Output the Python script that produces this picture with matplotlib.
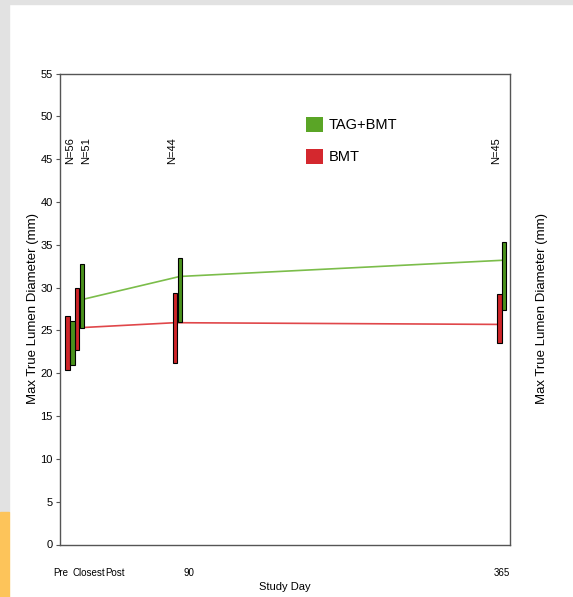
import numpy as np
import matplotlib.pyplot as plt
from matplotlib.patches import Patch, Rectangle

plt.rcParams['font.family'] = ['Liberation Sans', 'DejaVu Sans']

# data: study day of each visit and the range / mean of each group
visit_day = [-1, 7, 90, 365]
n_labels = ['N=56', 'N=51', 'N=44', 'N=45']

tag_low = [21.0, 25.3, 26.0, 27.4]
tag_high = [26.1, 32.8, 33.5, 35.3]
tag_mean = [24.1, 28.6, 31.3, 33.2]

bmt_low = [20.4, 22.7, 21.2, 23.5]
bmt_high = [26.7, 30.0, 29.4, 29.2]
bmt_mean = [23.4, 25.3, 25.9, 25.7]

xtick_labels = ['Pre', 'Closest', 'Post', '90', '365']

green = '#4a921c'
red = '#cf2529'

fig = plt.figure(figsize=(5.73, 5.97), dpi=100)
fig.patch.set_facecolor('white')

# grey / orange page border
fig.patches.append(Rectangle((0, 1 - 4 / 597), 1, 4 / 597, transform=fig.transFigure,
                             color='#e2e2e2', zorder=0))
fig.patches.append(Rectangle((0, 85 / 597), 9 / 573, 1, transform=fig.transFigure,
                             color='#e2e2e2', zorder=0))
fig.patches.append(Rectangle((0, 0), 9 / 573, 85 / 597, transform=fig.transFigure,
                             color='#fdc45a', zorder=0))

ax = fig.add_axes([59.5 / 573, 1 - 544.5 / 597, 450.5 / 573, 471 / 597])

days = np.array(visit_day, dtype=float)
off = 2.1
w = 3.8

ax.plot(days + off, tag_mean, color='#7bbd4a', lw=1.2, zorder=1)
ax.plot(days - off, bmt_mean, color='#e0474a', lw=1.2, zorder=1)

ax.bar(days - off, np.array(bmt_high) - np.array(bmt_low), w, bottom=bmt_low,
       color=red, edgecolor='black', lw=0.8, zorder=2)
ax.bar(days + off, np.array(tag_high) - np.array(tag_low), w, bottom=tag_low,
       color=green, edgecolor='black', lw=0.8, zorder=2)

for d, t in zip([-0.7, 12.9, 85.8, 360.3], n_labels):
    ax.text(d, 47.6, t, rotation=90, ha='center', va='top', fontsize=8)

ax.set_xlim(-9.9, 372)
ax.set_ylim(0, 55)
ax.set_yticks(range(0, 56, 5))
ax.set_xticks([-9.2, 14.6, 37.5, 100.2, 365.4])
ax.set_xticklabels(xtick_labels, fontsize=7)
ax.tick_params(axis='x', length=0, pad=17)
ax.tick_params(axis='y', length=3, labelsize=8, direction='out', color='#555555',
               right=True, labelright=True, pad=2)
for s in ax.spines.values():
    s.set_color('#555555')
    s.set_linewidth(1.0)

ax.set_xlabel('Study Day', fontsize=8, labelpad=3)
ax.set_ylabel('Max True Lumen Diameter (mm)', fontsize=9.5, labelpad=1)
ax2 = ax.twinx()
ax2.set_ylim(0, 55)
ax2.set_yticks([])
for s in ax2.spines.values():
    s.set_visible(False)
ax2.set_ylabel('Max True Lumen Diameter (mm)', fontsize=9.5, labelpad=19)

handles = [Patch(facecolor='#5aa526', edgecolor='none', label='TAG+BMT'),
           Patch(facecolor='#d4282e', edgecolor='none', label='BMT')]
ax.legend(handles=handles, loc='upper left', bbox_to_anchor=(0.518, 0.935),
          frameon=False, fontsize=10.5, handlelength=1.15, handleheight=1.15,
          handletextpad=0.4, labelspacing=1.15)

fig.savefig('out.png', dpi=100)
